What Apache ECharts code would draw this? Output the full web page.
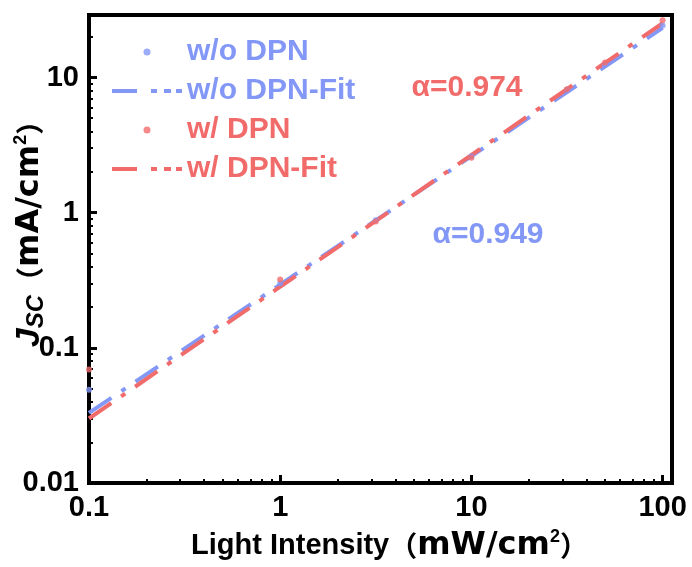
<!DOCTYPE html>
<html><head><meta charset="utf-8">
<script src="https://cdn.jsdelivr.net/npm/echarts@6/dist/echarts.min.js"></script>
<style>html,body{margin:0;padding:0;background:#fff}#c{width:692px;height:567px}</style>
</head><body><div id="c"></div>
<script>
// ---- data ----
const intensity = [0.1, 1, 3.16, 10, 31.6, 50, 100];
const jscWithout = [0.049, 0.30, 0.88, 2.6, 8.1, 12.4, 24.3];
const jscWith = [0.069, 0.32, 0.86, 2.55, 8.2, 12.9, 26.5];
const fitIntensity = [0.1, 100];
const fitWithout = [0.033, 23.3];
const fitWith = [0.030, 25.2];
const alphaWithout = 'α=0.949';
const alphaWith = 'α=0.974';
const seriesNames = ['w/o DPN', 'w/o DPN-Fit', 'w/ DPN', 'w/ DPN-Fit'];
const xMinorTicks = [0.2,0.3,0.4,0.5,0.6,0.7,0.8,0.9,2,3,4,5,6,7,8,9,20,30,40,50,60,70,80,90];
const yMinorTicks = [0.02,0.03,0.04,0.05,0.06,0.07,0.08,0.09,0.2,0.3,0.4,0.5,0.6,0.7,0.8,0.9,2,3,4,5,6,7,8,9,20];
const xRange = [0.1, 112];
const yRange = [0.01, 29];

const BLUE = '#8397f6', RED = '#f26b6b';
const FONT = "'Liberation Sans', Arial, 'Noto Sans CJK SC', sans-serif";
const CJK = "'Noto Sans CJK SC', sans-serif";
const WIDE = "'DejaVu Sans', sans-serif";
const pairs = (xs, ys) => xs.map((x, i) => [x, ys[i]]);
const dash = [27, 12, 5, 12];
const dotIcon = 'path://M0,0M70,20M31.5,10A3.5,3.5,0,1,1,38.5,10A3.5,3.5,0,1,1,31.5,10Z';
const dashIcon = 'path://M0,0M70,20M0,8L25,8L25,12L0,12ZM39,8L45,8L45,12L39,12ZM52,8L59,8L59,12L52,12ZM64,8L70,8L70,12L64,12Z';

const chart = echarts.init(document.getElementById('c'), null, {renderer: 'canvas'});
const baseAxis = (range) => ({
  type: 'log', logBase: 10, min: range[0], max: range[1],
  splitLine: {show: false}, minorTick: {show: false}
});
const txt = {fontFamily: FONT, fontWeight: 'bold', color: '#000'};
const tok = (o) => Object.assign({fontWeight: 'bold', color: '#000', fontFamily: FONT, lineHeight: 36}, o);
const xRich = {
  t: tok({fontSize: 29, padding: [0, 0, 0, 18]}),
  b: tok({fontSize: 28, fontFamily: CJK}),
  u: tok({fontSize: 32, fontFamily: WIDE}),
  sup: tok({fontSize: 18, verticalAlign: 'top', lineHeight: 28})
};
const yRich = {
  i: tok({fontSize: 34, fontStyle: 'italic'}),
  sub: tok({fontSize: 24, fontStyle: 'italic', verticalAlign: 'bottom', lineHeight: 30}),
  b: tok({fontSize: 28, fontFamily: CJK}),
  u: tok({fontSize: 32, fontFamily: WIDE}),
  sup: tok({fontSize: 18, verticalAlign: 'top', lineHeight: 28})
};

chart.setOption({
  animation: false,
  backgroundColor: '#fff',
  grid: {left: 89, right: 20, top: 15, bottom: 84, show: true, borderColor: '#000', borderWidth: 4, containLabel: false, outerBoundsMode: 'none'},
  xAxis: [
    Object.assign(baseAxis(xRange), {
      position: 'bottom',
      axisLine: {lineStyle: {color: '#000', width: 4}},
      axisTick: {inside: true, length: 8, lineStyle: {color: '#000', width: 3}},
      axisLabel: Object.assign({fontSize: 29, margin: 10, showMaxLabel: false, showMinLabel: true}, txt),
      name: '{t|Light Intensity}{b|（}{u|mW/cm}{sup|2}{b|）}',
      nameLocation: 'middle', nameGap: 45, nameMoveOverlap: false,
      nameTextStyle: Object.assign({fontSize: 28, rich: xRich}, txt)
    }),
    Object.assign(baseAxis(xRange), {
      position: 'bottom',
      axisLine: {show: false},
      axisLabel: {show: false},
      axisTick: {inside: true, length: 4, customValues: xMinorTicks, lineStyle: {color: '#000', width: 2}}
    })
  ],
  yAxis: [
    Object.assign(baseAxis(yRange), {
      position: 'left',
      axisLine: {show: true, lineStyle: {color: '#000', width: 4}},
      axisTick: {show: true, inside: true, length: 8, lineStyle: {color: '#000', width: 3}},
      axisLabel: Object.assign({fontSize: 29, margin: 10, showMaxLabel: false}, txt),
      name: '{i|J}{sub|SC}{b|（}{u|mA/cm}{sup|2}{b|）}',
      nameLocation: 'middle', nameGap: 41, nameMoveOverlap: false,
      nameTextStyle: Object.assign({fontSize: 28, padding: [0, 0, 0, 44], rich: yRich}, txt)
    }),
    Object.assign(baseAxis(yRange), {
      position: 'left',
      axisLine: {show: false},
      axisLabel: {show: false},
      axisTick: {show: true, inside: true, length: 4, customValues: yMinorTicks, lineStyle: {color: '#000', width: 2}}
    })
  ],
  legend: {
    orient: 'vertical', left: 112, top: 37, itemWidth: 70, itemHeight: 20, itemGap: 9, padding: 0,
    textStyle: {fontFamily: FONT, fontWeight: 'bold', fontSize: 30},
    data: [
      {name: seriesNames[0], icon: dotIcon, textStyle: {color: BLUE}},
      {name: seriesNames[1], icon: dashIcon, textStyle: {color: BLUE}},
      {name: seriesNames[2], icon: dotIcon, textStyle: {color: RED}},
      {name: seriesNames[3], icon: dashIcon, textStyle: {color: RED}}
    ]
  },
  graphic: [
    {type: 'text', x: 467, y: 88, style: {text: alphaWith, fill: RED, font: "bold 30px 'Liberation Sans', Arial, sans-serif", align: 'center', verticalAlign: 'middle', textAlign: 'center', textVerticalAlign: 'middle'}},
    {type: 'text', x: 488, y: 235, style: {text: alphaWithout, fill: BLUE, font: "bold 30px 'Liberation Sans', Arial, sans-serif", align: 'center', verticalAlign: 'middle', textAlign: 'center', textVerticalAlign: 'middle'}}
  ],
  series: [
    {name: seriesNames[0], type: 'scatter', data: pairs(intensity, jscWithout), symbolSize: 6, itemStyle: {color: BLUE}, z: 3},
    {name: seriesNames[1], type: 'line', data: pairs(fitIntensity, fitWithout), symbol: 'none', lineStyle: {color: BLUE, width: 4, type: dash}, itemStyle: {color: BLUE}, z: 2},
    {name: seriesNames[2], type: 'scatter', data: pairs(intensity, jscWith), symbolSize: 6, itemStyle: {color: RED}, z: 4},
    {name: seriesNames[3], type: 'line', data: pairs(fitIntensity, fitWith), symbol: 'none', lineStyle: {color: RED, width: 4, type: dash}, itemStyle: {color: RED}, z: 2}
  ]
});
</script></body></html>
